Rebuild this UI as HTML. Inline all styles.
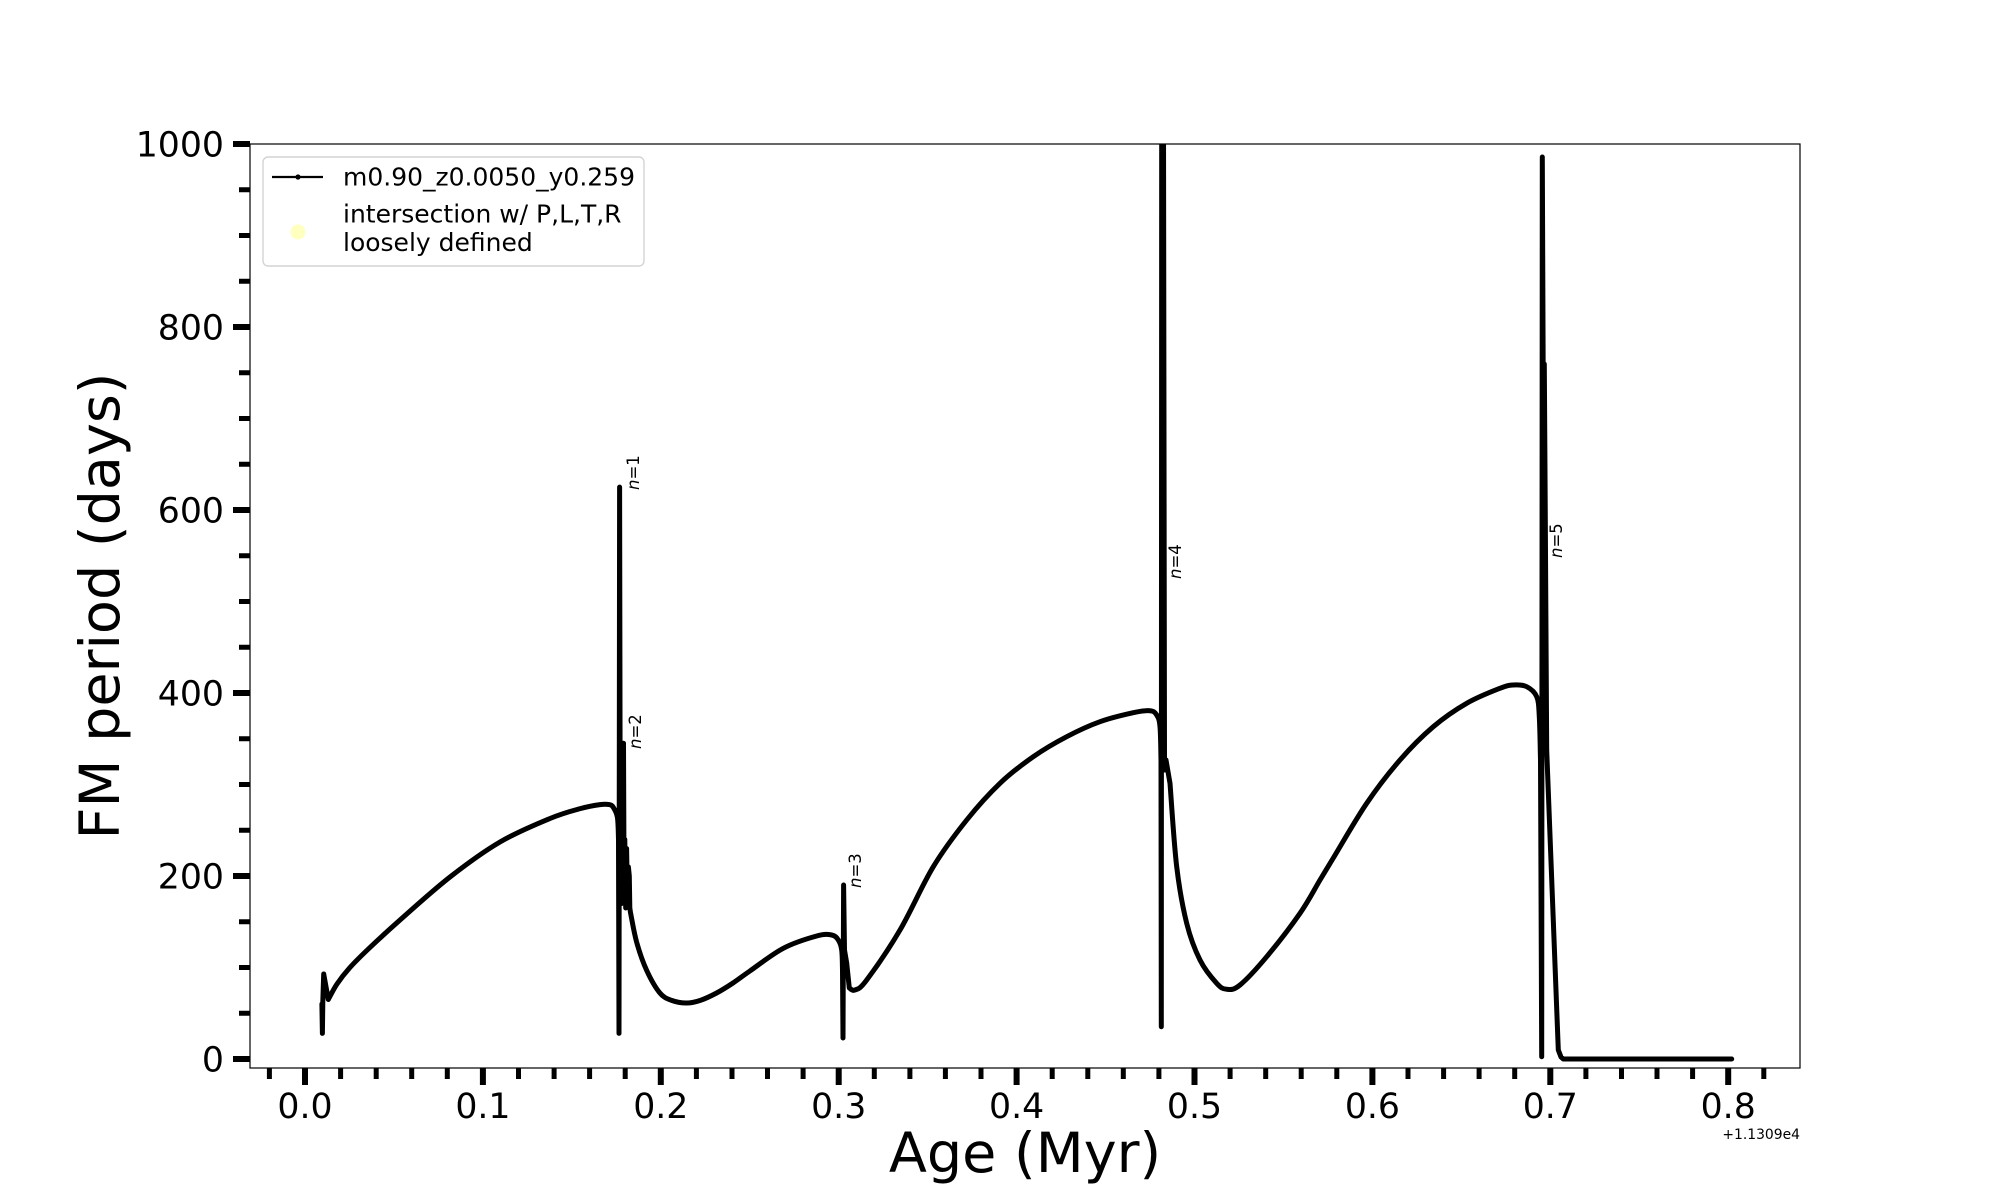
<!DOCTYPE html>
<html>
<head>
<meta charset="utf-8">
<style>
html,body{margin:0;padding:0;background:#fff;}
svg{display:block;}
text{font-family:"DejaVu Sans","Liberation Sans",sans-serif;fill:#000;}
</style>
</head>
<body>
<svg width="2000" height="1200" viewBox="0 0 2000 1200" xmlns="http://www.w3.org/2000/svg">
<rect x="0" y="0" width="2000" height="1200" fill="#fff"/>
<defs>
<clipPath id="ax"><rect x="250" y="144" width="1550" height="924"/></clipPath>
</defs>

<!-- data curve -->
<g clip-path="url(#ax)" fill="none" stroke="#000" stroke-width="5" stroke-linejoin="round" stroke-linecap="round">
<path id="curve" d="M321.9,1004 L322.4,1033.4 L322.8,1002 L323.7,974 L328.3,999.5 L337,984 L349.5,968 L367.3,950 L400,920 L450,877 L500,842 L550,818.5 L580.7,808.5 L600,804.6 L609.2,804.6 L613.3,807.4 L617.4,817.4 L618.5,839.4
L619,1033.4 L619.6,487.1 L620.2,821 L620.6,876 L621,812 L621.8,903.5 L622.7,830 L623.5,743.3 L624.1,894.3 L624.8,839.4 L625.7,908 L626.6,848.5 L627.5,903.5 L628.4,867 L629.3,876 L629.8,908 L630.5,912.6
L636.6,942 L646.5,970 L659.9,993 L672,1000.5 L686.6,1003 L700,1000.5 L716.6,993 L733,983 L749.9,971 L783.3,948.3 L816.7,936 L831.7,935 L838.3,940 L841.7,950 L842.5,970
L843,1038 L843.6,885 L844.5,950 L846.7,963 L849.3,988 L855,990 L866.7,980 L900,930 L933.3,866.7 L966.7,820 L1000,783.3 L1033.3,756.7 L1066.7,736.7 L1100,721.7 L1133.3,712.7 L1150,710.7 L1156.7,715 L1160,726.7 L1161,760
L1161.3,1026.7 L1161.7,120 L1163.5,120 L1164.5,757 L1164.5,770 L1166,760 L1170,783.3 L1176.7,866.7 L1186.7,923.3 L1200,960 L1216.7,983.3 L1226.7,989.3 L1240,985 L1266.7,956.7 L1300,913.3 L1320,880
L1333.3,858 L1366.7,803.3 L1400,760 L1433.3,726.7 L1466.7,703.3 L1500,688.3 L1513.3,685 L1526.7,686.7 L1536.7,696.7 L1539.3,716.7 L1540.5,760
L1541.7,1056.7 L1542.3,157 L1543.3,400 L1544.3,364 L1545.3,520 L1546.7,750 L1558.3,1050 L1561,1057 L1563.3,1059 L1731.7,1059"/>
</g>

<!-- spike labels -->
<g font-size="16.5">
<text transform="translate(639,490) rotate(-90)"><tspan font-style="italic">n</tspan>=1</text>
<text transform="translate(641,749) rotate(-90)"><tspan font-style="italic">n</tspan>=2</text>
<text transform="translate(861,888) rotate(-90)"><tspan font-style="italic">n</tspan>=3</text>
<text transform="translate(1181,579) rotate(-90)"><tspan font-style="italic">n</tspan>=4</text>
<text transform="translate(1562,558) rotate(-90)"><tspan font-style="italic">n</tspan>=5</text>
</g>

<!-- axes frame -->
<rect x="250" y="144" width="1550" height="924" fill="none" stroke="#000" stroke-width="1.2"/>

<!-- y ticks -->
<g stroke="#000">
<g stroke-width="6">
<line x1="233" y1="1059" x2="250" y2="1059"/>
<line x1="233" y1="876" x2="250" y2="876"/>
<line x1="233" y1="693" x2="250" y2="693"/>
<line x1="233" y1="510" x2="250" y2="510"/>
<line x1="233" y1="327" x2="250" y2="327"/>
<line x1="233" y1="144" x2="250" y2="144"/>
</g>
<g stroke-width="5">
<line x1="239" y1="1013.25" x2="250" y2="1013.25"/>
<line x1="239" y1="967.5" x2="250" y2="967.5"/>
<line x1="239" y1="921.75" x2="250" y2="921.75"/>
<line x1="239" y1="830.25" x2="250" y2="830.25"/>
<line x1="239" y1="784.5" x2="250" y2="784.5"/>
<line x1="239" y1="738.75" x2="250" y2="738.75"/>
<line x1="239" y1="647.25" x2="250" y2="647.25"/>
<line x1="239" y1="601.5" x2="250" y2="601.5"/>
<line x1="239" y1="555.75" x2="250" y2="555.75"/>
<line x1="239" y1="464.25" x2="250" y2="464.25"/>
<line x1="239" y1="418.5" x2="250" y2="418.5"/>
<line x1="239" y1="372.75" x2="250" y2="372.75"/>
<line x1="239" y1="281.25" x2="250" y2="281.25"/>
<line x1="239" y1="235.5" x2="250" y2="235.5"/>
<line x1="239" y1="189.75" x2="250" y2="189.75"/>
</g>

<!-- x ticks -->
<g stroke-width="6">
<line x1="305" y1="1068" x2="305" y2="1085"/>
<line x1="482.9" y1="1068" x2="482.9" y2="1085"/>
<line x1="660.8" y1="1068" x2="660.8" y2="1085"/>
<line x1="838.7" y1="1068" x2="838.7" y2="1085"/>
<line x1="1016.6" y1="1068" x2="1016.6" y2="1085"/>
<line x1="1194.5" y1="1068" x2="1194.5" y2="1085"/>
<line x1="1372.4" y1="1068" x2="1372.4" y2="1085"/>
<line x1="1550.3" y1="1068" x2="1550.3" y2="1085"/>
<line x1="1728.2" y1="1068" x2="1728.2" y2="1085"/>
</g>
<g stroke-width="5">
<line x1="269.4" y1="1068" x2="269.4" y2="1079"/>
<line x1="340.6" y1="1068" x2="340.6" y2="1079"/>
<line x1="376.2" y1="1068" x2="376.2" y2="1079"/>
<line x1="411.7" y1="1068" x2="411.7" y2="1079"/>
<line x1="447.3" y1="1068" x2="447.3" y2="1079"/>
<line x1="518.5" y1="1068" x2="518.5" y2="1079"/>
<line x1="554.1" y1="1068" x2="554.1" y2="1079"/>
<line x1="589.6" y1="1068" x2="589.6" y2="1079"/>
<line x1="625.2" y1="1068" x2="625.2" y2="1079"/>
<line x1="696.4" y1="1068" x2="696.4" y2="1079"/>
<line x1="732" y1="1068" x2="732" y2="1079"/>
<line x1="767.5" y1="1068" x2="767.5" y2="1079"/>
<line x1="803.1" y1="1068" x2="803.1" y2="1079"/>
<line x1="874.3" y1="1068" x2="874.3" y2="1079"/>
<line x1="909.9" y1="1068" x2="909.9" y2="1079"/>
<line x1="945.4" y1="1068" x2="945.4" y2="1079"/>
<line x1="981" y1="1068" x2="981" y2="1079"/>
<line x1="1052.2" y1="1068" x2="1052.2" y2="1079"/>
<line x1="1087.8" y1="1068" x2="1087.8" y2="1079"/>
<line x1="1123.3" y1="1068" x2="1123.3" y2="1079"/>
<line x1="1158.9" y1="1068" x2="1158.9" y2="1079"/>
<line x1="1230.1" y1="1068" x2="1230.1" y2="1079"/>
<line x1="1265.7" y1="1068" x2="1265.7" y2="1079"/>
<line x1="1301.2" y1="1068" x2="1301.2" y2="1079"/>
<line x1="1336.8" y1="1068" x2="1336.8" y2="1079"/>
<line x1="1408" y1="1068" x2="1408" y2="1079"/>
<line x1="1443.6" y1="1068" x2="1443.6" y2="1079"/>
<line x1="1479.1" y1="1068" x2="1479.1" y2="1079"/>
<line x1="1514.7" y1="1068" x2="1514.7" y2="1079"/>
<line x1="1585.9" y1="1068" x2="1585.9" y2="1079"/>
<line x1="1621.5" y1="1068" x2="1621.5" y2="1079"/>
<line x1="1657" y1="1068" x2="1657" y2="1079"/>
<line x1="1692.6" y1="1068" x2="1692.6" y2="1079"/>
<line x1="1763.8" y1="1068" x2="1763.8" y2="1079"/>
</g>
</g>

<!-- y tick labels -->
<g font-size="34.7" text-anchor="end">
<text x="224" y="1071.6">0</text>
<text x="224" y="888.6">200</text>
<text x="224" y="705.6">400</text>
<text x="224" y="522.6">600</text>
<text x="224" y="339.6">800</text>
<text x="224" y="156.6">1000</text>
</g>

<!-- x tick labels -->
<g font-size="34.7" text-anchor="middle">
<text x="305" y="1118">0.0</text>
<text x="482.9" y="1118">0.1</text>
<text x="660.8" y="1118">0.2</text>
<text x="838.7" y="1118">0.3</text>
<text x="1016.6" y="1118">0.4</text>
<text x="1194.5" y="1118">0.5</text>
<text x="1372.4" y="1118">0.6</text>
<text x="1550.3" y="1118">0.7</text>
<text x="1728.2" y="1118">0.8</text>
</g>
<text x="1800" y="1139" font-size="13.9" text-anchor="end">+1.1309e4</text>

<!-- axis labels -->
<text x="1025" y="1172" font-size="55.6" text-anchor="middle">Age (Myr)</text>
<text transform="translate(119,606) rotate(-90)" font-size="55.6" text-anchor="middle">FM period (days)</text>

<!-- legend -->
<rect x="263" y="157" width="381" height="109" rx="5" ry="5" fill="#fff" stroke="#d4d4d4" stroke-width="1.4"/>
<line x1="272" y1="177" x2="323" y2="177" stroke="#000" stroke-width="2.2"/>
<circle cx="298" cy="177" r="2.6" fill="#000"/>
<circle cx="298" cy="232" r="7.5" fill="#ffffbf"/>
<g font-size="25">
<text x="343" y="185.7">m0.90_z0.0050_y0.259</text>
<text x="343" y="222.5">intersection w/ P,L,T,R</text>
<text x="343" y="251">loosely defined</text>
</g>
</svg>
<script>
(function(){
  var segs = [
    ["L",[[321.9,1004],[322.4,1033.4],[322.8,1002],[323.7,974],[328.3,999.5]]],
    ["S",[[328.3,999.5],[337,984],[349.5,968],[367.3,950],[400,920],[450,877],[500,842],[550,818.5],[580.7,808.5],[600,804.6],[609.2,804.6],[613.3,807.4],[617.4,817.4],[618.5,839.4]]],
    ["L",[[618.5,839.4],[619,1033.4],[619.6,487.1],[620.2,821],[620.6,876],[621,812],[621.8,903.5],[622.7,830],[623.5,743.3],[624.1,894.3],[624.8,839.4],[625.7,908],[626.6,848.5],[627.5,903.5],[628.4,867],[629.3,876],[629.8,908],[630.5,912.6]]],
    ["S",[[630.5,912.6],[636.6,942],[646.5,970],[659.9,993],[672,1000.5],[686.6,1003],[700,1000.5],[716.6,993],[733,983],[749.9,971],[783.3,948.3],[816.7,936],[831.7,935],[838.3,940],[841.7,950],[842.5,970]]],
    ["L",[[842.5,970],[843,1038],[843.6,885],[844.5,950],[846.7,963],[849.3,988]]],
    ["S",[[849.3,988],[855,990],[866.7,980],[900,930],[933.3,866.7],[966.7,820],[1000,783.3],[1033.3,756.7],[1066.7,736.7],[1100,721.7],[1133.3,712.7],[1150,710.7],[1156.7,715],[1160,726.7],[1161,760]]],
    ["L",[[1161,760],[1161.3,1026.7],[1161.7,120],[1163.5,120],[1164.5,757],[1164.5,770],[1166,760],[1170,783.3]]],
    ["S",[[1170,783.3],[1176.7,866.7],[1186.7,923.3],[1200,960],[1216.7,983.3],[1226.7,989.3],[1240,985],[1266.7,956.7],[1300,913.3],[1320,880],[1333.3,858],[1366.7,803.3],[1400,760],[1433.3,726.7],[1466.7,703.3],[1500,688.3],[1513.3,685],[1526.7,686.7],[1536.7,696.7],[1539.3,716.7],[1540.5,760]]],
    ["L",[[1540.5,760],[1541.7,1056.7],[1542.3,157],[1543.3,400],[1544.3,364],[1545.3,520],[1546.7,750],[1558.3,1050],[1561,1057],[1563.3,1059],[1731.7,1059]]]
  ];
  function f(v){return (Math.round(v*100)/100).toString();}
  var d = "M"+f(segs[0][1][0][0])+","+f(segs[0][1][0][1]);
  for (var s=0;s<segs.length;s++){
    var type=segs[s][0], p=segs[s][1];
    if(type==="L"){
      for(var i=1;i<p.length;i++) d+=" L"+f(p[i][0])+","+f(p[i][1]);
    } else {
      for(var i=0;i<p.length-1;i++){
        var p0=p[i>0?i-1:i], p1=p[i], p2=p[i+1], p3=p[i+2<p.length?i+2:i+1];
        var c1x=p1[0]+(p2[0]-p0[0])/6, c1y=p1[1]+(p2[1]-p0[1])/6;
        var c2x=p2[0]-(p3[0]-p1[0])/6, c2y=p2[1]-(p3[1]-p1[1])/6;
        d+=" C"+f(c1x)+","+f(c1y)+" "+f(c2x)+","+f(c2y)+" "+f(p2[0])+","+f(p2[1]);
      }
    }
  }
  var el=document.getElementById("curve");
  if(el) el.setAttribute("d",d);
})();
</script>
</body>
</html>
